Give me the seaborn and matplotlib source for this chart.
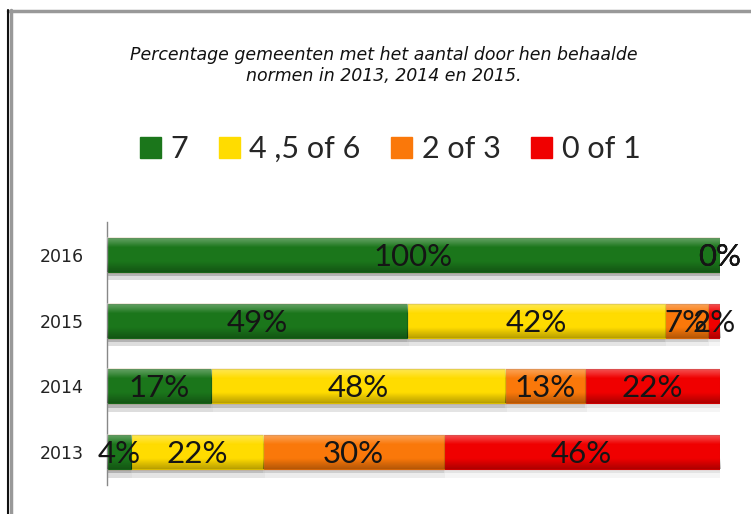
import numpy as np
import pandas as pd
import matplotlib
matplotlib.use("Agg")
import matplotlib.pyplot as plt
import matplotlib.patheffects as pe
from matplotlib.patches import Patch
from matplotlib.lines import Line2D
import seaborn as sns

# data
years = ["2016", "2015", "2014", "2013"]
series = ["7", "4 ,5 of 6", "2 of 3", "0 of 1"]
score_7 = [100, 49, 17, 4]
score_4_6 = [0, 42, 48, 22]
score_2_3 = [0, 7, 13, 30]
score_0_1 = [0, 2, 22, 46]
colors = ["#1b761b", "#ffdc00", "#fa780a", "#f00000"]

df = pd.DataFrame({"year": years, "7": score_7, "4 ,5 of 6": score_4_6,
                   "2 of 3": score_2_3, "0 of 1": score_0_1})
vals = df[series].to_numpy(dtype=float)
shares = vals / vals.sum(axis=1, keepdims=True) * 100   # 100% stacked
cum = np.cumsum(shares, axis=1)
bar_w = 0.52

sns.set_style("white")
plt.rcParams["font.family"] = ["Lato", "DejaVu Sans"]

fig = plt.figure(figsize=(7.51, 5.14), dpi=100)
ax = fig.add_axes([107 / 751, 1 - 485 / 514, (720 - 107) / 751, (485 - 222) / 514])

shadow = [pe.SimplePatchShadow(offset=(0, -3), shadow_rgbFace="#808080", alpha=0.15),
          pe.SimplePatchShadow(offset=(1, -6), shadow_rgbFace="#a0a0a0", alpha=0.10),
          pe.Normal()]

# draw cumulative totals from the back so shorter bars sit on top
for i in range(len(series) - 1, -1, -1):
    sns.barplot(x=cum[:, i], y=df["year"], order=years, orient="h",
                color=colors[i], saturation=1, width=bar_w, ax=ax,
                edgecolor=colors[i], linewidth=0.8)

for bar in ax.patches:
    r, g, b, _ = bar.get_facecolor()
    bar.set_edgecolor((r * 0.85, g * 0.85, b * 0.85))
    bar.set_path_effects(shadow)

# glossy shading on each visible segment: light top, darker bottom
t = np.linspace(0, 1, 40)
alpha_white = np.clip(0.35 - t * 1.2, 0, None)
alpha_black = np.clip((t - 0.7) * 0.9, 0, None)
grad = np.zeros((40, 1, 4))
grad[:, 0, :3] = np.where(alpha_white[:, None] > 0, 1.0, 0.0)
grad[:, 0, 3] = alpha_white + alpha_black
for row in range(len(years)):
    for i in range(len(series)):
        if shares[row, i] <= 0:
            continue
        x0 = cum[row, i] - shares[row, i]
        ax.imshow(grad, extent=[x0, cum[row, i], row + bar_w / 2, row - bar_w / 2],
                  aspect="auto", zorder=3, interpolation="bilinear")

# segment labels
for row, yr in enumerate(years):
    left = 0
    for i in range(len(series)):
        ax.text(left + shares[row, i] / 2, row + 0.03, f"{int(vals[row, i])}%",
                ha="center", va="center", fontsize=22.5,
                color="#151515", zorder=5)
        left += shares[row, i]

ax.set_xlim(0, 100)
ax.set_ylim(3.5, -0.5)
ax.set_xlabel("")
ax.set_ylabel("")
ax.set_xticks([])
ax.tick_params(axis="y", length=0, pad=17)
for lab in ax.get_yticklabels():
    lab.set_fontfamily("DejaVu Sans")
    lab.set_fontsize(12.5)
    lab.set_color("#222222")
for s in ["top", "right", "bottom"]:
    ax.spines[s].set_visible(False)
ax.spines["left"].set_color("#888888")
ax.spines["left"].set_linewidth(1)
ax.set_facecolor("none")

# title
fig.text(384 / 751, 1 - 55 / 514, "Percentage gemeenten met het aantal door hen behaalde",
         ha="center", va="center", fontsize=12.5, style="italic", color="#111111",
         family="DejaVu Sans")
fig.text(384 / 751, 1 - 76 / 514, "normen in 2013, 2014 en 2015.",
         ha="center", va="center", fontsize=12.5, style="italic", color="#111111",
         family="DejaVu Sans")

# legend
handles = [Patch(facecolor=c, edgecolor=c) for c in colors]
fig.legend(handles, series, loc="center", bbox_to_anchor=(390 / 751, 1 - 149 / 514),
           ncol=4, frameon=False, fontsize=22, handlelength=0.7, handleheight=0.7,
           handletextpad=0.3, columnspacing=1.0)

# outer frame of the chart area
fig.add_artist(Line2D([8 / 751, 1], [1 - 11 / 514] * 2, color="#999999", lw=2.5))
fig.add_artist(Line2D([10.5 / 751] * 2, [0, 1 - 10 / 514], color="#999999", lw=2.5))
fig.add_artist(Line2D([8 / 751] * 2, [0, 1 - 10 / 514], color="#111111", lw=1.5))

fig.savefig("out.png", dpi=100)
